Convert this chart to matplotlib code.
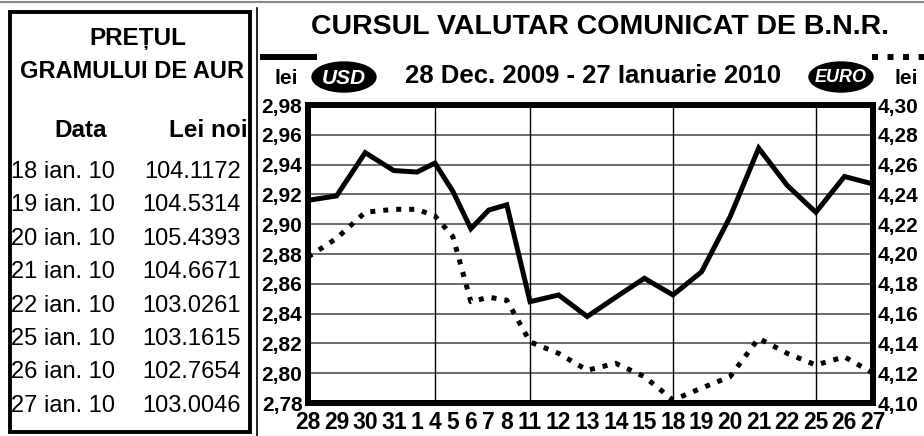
import numpy as np
import matplotlib.pyplot as plt
from matplotlib.patches import Ellipse, Rectangle

# zilele cotatiei (28 dec. 2009 - 27 ian. 2010)
zile = ['28', '29', '30', '31', '1', '4', '5', '6', '7', '8', '11', '12', '13',
        '14', '15', '18', '19', '20', '21', '22', '25', '26', '27']
usd = [2.916, 2.919, 2.948, 2.936, 2.935, 2.941, 2.922, 2.897, 2.9095, 2.913,
       2.848, 2.8525, 2.838, 2.851, 2.8637, 2.8525, 2.868, 2.905, 2.951, 2.926,
       2.908, 2.932, 2.927]
euro = [4.198, 4.2105, 4.228, 4.230, 4.230, 4.2255, 4.2116, 4.168, 4.171, 4.169,
        4.141, 4.1333, 4.122, 4.1266, 4.1177, 4.102, 4.110, 4.1177, 4.1434, 4.1333,
        4.1255, 4.131, 4.120]
luni = ['4', '11', '18', '25']
usd_ticks = [2.78, 2.80, 2.82, 2.84, 2.86, 2.88, 2.90, 2.92, 2.94, 2.96, 2.98]
euro_ticks = [4.10, 4.12, 4.14, 4.16, 4.18, 4.20, 4.22, 4.24, 4.26, 4.28, 4.30]

aur_date = ['18 ian. 10', '19 ian. 10', '20 ian. 10', '21 ian. 10',
            '22 ian. 10', '25 ian. 10', '26 ian. 10', '27 ian. 10']
aur_pret = ['104.1172', '104.5314', '105.4393', '104.6671',
            '103.0261', '103.1615', '102.7654', '103.0046']

plt.rcParams['font.family'] = ['Liberation Sans', 'DejaVu Sans']

W, H = 924, 436
fig = plt.figure(figsize=(W / 100, H / 100), dpi=100)

# strat de fundal in pixeli pentru chenar, titluri, legenda
bg = fig.add_axes([0, 0, 1, 1])
bg.set_xlim(0, W)
bg.set_ylim(H, 0)
bg.axis('off')

bg.plot([0, W], [2, 2], color='#888888', lw=1.5)
bg.plot([257, 257], [8, H], color='black', lw=1.2)
bg.add_patch(Rectangle((10, 12), 240, 420, fill=False, ec='black', lw=2.8))

bg.text(138, 38, 'PREȚUL', ha='center', va='center', fontsize=17.5, weight='bold')
bg.text(132, 72, 'GRAMULUI DE AUR', ha='center', va='center', fontsize=17, weight='bold')
bg.text(81, 130, 'Data', ha='center', va='center', fontsize=17.5, weight='bold')
bg.text(248, 130, 'Lei noi', ha='right', va='center', fontsize=17.5, weight='bold')
for k in range(len(aur_date)):
    yy = 172 + k * 33.4
    bg.text(11, yy, aur_date[k], ha='left', va='center', fontsize=17)
    bg.text(241, yy, aur_pret[k], ha='right', va='center', fontsize=17)

bg.text(600, 27, 'CURSUL VALUTAR COMUNICAT DE B.N.R.', ha='center', va='center',
        fontsize=20.5, weight='bold')
bg.text(593, 76, '28 Dec. 2009 - 27 Ianuarie 2010', ha='center', va='center',
        fontsize=18.5, weight='bold')

bg.plot([260, 317], [57, 57], color='black', lw=4.3, solid_capstyle='butt')
bg.plot([872, 924], [57, 57], color='black', lw=4.3, ls=(0, (1, 1.6)), dash_capstyle='butt')
bg.text(286, 78, 'lei', ha='center', va='center', fontsize=15, weight='bold')
bg.text(906, 78, 'lei', ha='center', va='center', fontsize=15, weight='bold')
bg.add_patch(Ellipse((344, 77), 64, 30, color='black'))
bg.add_patch(Ellipse((841, 77), 64, 30, color='black'))
bg.text(344, 78, 'USD', ha='center', va='center', fontsize=15, weight='bold',
        style='italic', color='white')
bg.text(841, 78, 'EURO', ha='center', va='center', fontsize=13, weight='bold',
        style='italic', color='white')

# pozitiile zilelor: latimea etichetelor determina spatierea
lat = np.array([len(z) for z in zile], float)
x = np.concatenate([[0], np.cumsum((lat[:-1] + lat[1:]) / 2 + 0.69)])

x0, x1, y0, y1 = 308, 873, 105, 403
ax = fig.add_axes([x0 / W, 1 - y1 / H, (x1 - x0) / W, (y1 - y0) / H])
ax.set_xlim(x[0], x[-1])
ax.set_ylim(usd_ticks[0], usd_ticks[-1])
for v in usd_ticks[1:-1]:
    ax.axhline(v, color='#444444', lw=1.1, zorder=1)
for z in luni:
    ax.axvline(x[zile.index(z)], color='black', lw=1.0, zorder=1)

ax.plot(x, usd, color='black', lw=3.6, solid_joinstyle='miter', clip_on=False, zorder=3)

ax.set_xticks(x)
ax.set_xticklabels(zile, fontsize=16.5, weight='bold')
ax.set_yticks(usd_ticks)
ax.set_yticklabels([('%.2f' % v).replace('.', ',') for v in usd_ticks],
                   fontsize=15, weight='bold')
ax.tick_params(length=0)
ax.tick_params(axis='x', pad=6)
ax.tick_params(axis='y', pad=4)
for s in ax.spines.values():
    s.set_linewidth(4.3)

ax2 = ax.twinx()
ax2.set_ylim(euro_ticks[0], euro_ticks[-1])
ax2.plot(x, euro, color='black', lw=3.6, ls=(0, (1, 1.6)), dash_capstyle='butt',
         clip_on=False, zorder=3)
ax2.set_yticks(euro_ticks)
ax2.set_yticklabels([('%.2f' % v).replace('.', ',') for v in euro_ticks],
                    fontsize=15, weight='bold')
ax2.tick_params(length=0, pad=3)
for s in ax2.spines.values():
    s.set_linewidth(4.3)

fig.savefig('out.png', dpi=100)
